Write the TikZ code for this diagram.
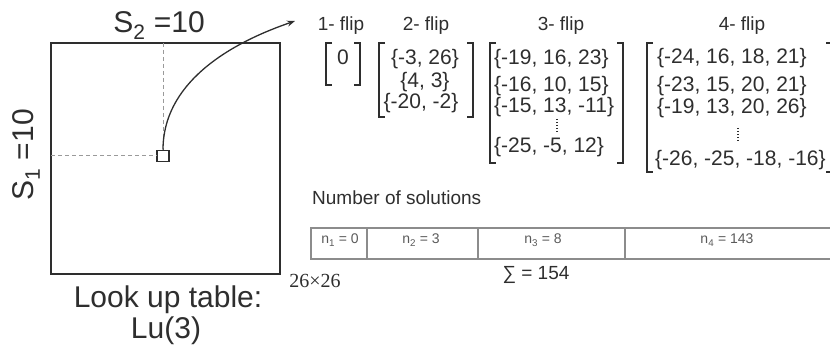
\documentclass[tikz,border=0pt]{standalone}
\usepackage{fontspec}
\setmainfont{Liberation Sans}
\newfontfamily\serifnum{Liberation Serif}
\usetikzlibrary{arrows.meta}
\definecolor{ink}{HTML}{2E2E2E}
\definecolor{cellink}{HTML}{5A5A5A}
\definecolor{gridc}{HTML}{8C8C8C}
\definecolor{dashc}{HTML}{9A9A9A}
\newcommand{\fs}[1]{\fontsize{#1}{#1}\selectfont}
\begin{document}
\begin{tikzpicture}[x=1pt,y=-1pt,
  big/.style={font=\fs{30}, text=ink, inner sep=0pt},
  flipl/.style={font=\fs{19}, text=ink, inner sep=0pt, anchor=base},
  ent/.style={font=\fs{21}, text=ink, inner sep=0pt, anchor=base},
  entw/.style={font=\fs{21}, text=ink, inner sep=0pt, anchor=base west},
  cell/.style={font=\fs{14}, text=cellink, inner sep=0pt, anchor=base},
  brk/.style={draw=ink, line width=1.8pt},
  tab/.style={draw=gridc, line width=1.6pt},
  dsh/.style={draw=dashc, line width=1pt, dash pattern=on 4pt off 3pt},
  vdot/.style={draw=ink, line width=1.3pt, dash pattern=on 1.3pt off 1.7pt}
]
\useasboundingbox (0,0) rectangle (830,352);
\begin{scope}
\clip (0,0) rectangle (830,352);
% look-up table square
\node (lut) [draw=ink, line width=2pt, minimum width=229pt, minimum height=231pt, inner sep=0pt] at (165.5,158.5) {};
\node (cellsq) [draw=ink, line width=1.5pt, minimum width=12pt, minimum height=11pt, inner sep=0pt, fill=white] at (163,156) {};
\coordinate (topd) at (163,43);
\coordinate (leftd) at (51,156);
\draw[dsh] (topd) -- (cellsq.north);
\draw[dsh] (leftd) -- (cellsq.west);
\coordinate (tip) at (295,21);
\draw[ink, line width=1.3pt, -{Stealth[length=8pt,width=6pt]}] (cellsq.north) .. controls (163,85) and (225,45) .. (tip);

\node (s2) [big, anchor=base] at (159,33) {S\textsubscript{2} =10};
\node (s1) [big, rotate=90, anchor=base] at (34,155) {S\textsubscript{1} =10};
\node (lu1) [big, anchor=base] at (168,308) {Look up table:};
\node (lu2) [big, anchor=base] at (166,339) {Lu(3)};
\node (dim) [font=\fs{20}\serifnum, text=ink, inner sep=0pt, anchor=base] at (315,288) {26×26};

% flip labels
\node (f1) [flipl] at (341,31) {1- flip};
\node (f2) [flipl] at (426,31) {2- flip};
\node (f3) [flipl] at (561,31) {3- flip};
\node (f4) [flipl] at (742,31) {4- flip};

% matrix 1
\draw[brk] (332,43) -- (326,43) -- (326,85) -- (332,85);
\draw[brk] (354,43) -- (360,43) -- (360,85) -- (354,85);
\node (m1a) [ent] at (343,65) {0};

% matrix 2
\draw[brk] (385,43) -- (379,43) -- (379,117) -- (385,117);
\draw[brk] (467,43) -- (473,43) -- (473,117) -- (467,117);
\node (m2a) [ent] at (425,65) {\{-3, 26\}};
\node (m2b) [ent] at (425,88) {\{4, 3\}};
\node (m2c) [ent] at (421,109) {\{-20, -2\}};

% matrix 3
\draw[brk] (496,43) -- (490,43) -- (490,163) -- (496,163);
\draw[brk] (617,43) -- (623,43) -- (623,163) -- (617,163);
\node (m3a) [entw] at (494,65) {\{-19, 16, 23\}};
\node (m3b) [entw] at (494,92) {\{-16, 10, 15\}};
\node (m3c) [entw] at (494,113) {\{-15, 13, -11\}};
\coordinate (m3dt) at (557,119);
\coordinate (m3db) at (557,132);
\draw[vdot] (m3dt) -- (m3db);
\node (m3e) [entw] at (494,153) {\{-25, -5, 12\}};

% matrix 4
\draw[brk] (653,43) -- (647,43) -- (647,172) -- (653,172);
\draw[brk] (826,43) -- (832,43) -- (832,172) -- (826,172);
\node (m4a) [entw] at (657,64) {\{-24, 16, 18, 21\}};
\node (m4b) [entw] at (657,92) {\{-23, 15, 20, 21\}};
\node (m4c) [entw] at (657,114) {\{-19, 13, 20, 26\}};
\coordinate (m4dt) at (738,128);
\coordinate (m4db) at (738,142);
\draw[vdot] (m4dt) -- (m4db);
\node (m4e) [entw] at (655,166) {\{-26, -25, -18, -16\}};

% number of solutions
\node (nos) [font=\fs{19}, text=ink, inner sep=0pt, anchor=base west] at (312,205) {Number of solutions};
\draw[tab] (845,228) -- (311,228) -- (311,259) -- (845,259);
\draw[tab] (367,228) -- (367,259);
\draw[tab] (478,228) -- (478,259);
\draw[tab] (625,228) -- (625,259);
\node (n1) [cell] at (340,244) {n\textsubscript{1} = 0};
\node (n2) [cell] at (421,244) {n\textsubscript{2} = 3};
\node (n3) [cell] at (543,244) {n\textsubscript{3} = 8};
\node (n4) [cell] at (727,244) {n\textsubscript{4} = 143};
\node (sum) [font=\fs{19}, text=ink, inner sep=0pt, anchor=base] at (536,280) {∑ = 154};
\end{scope}
\end{tikzpicture}
\end{document}
